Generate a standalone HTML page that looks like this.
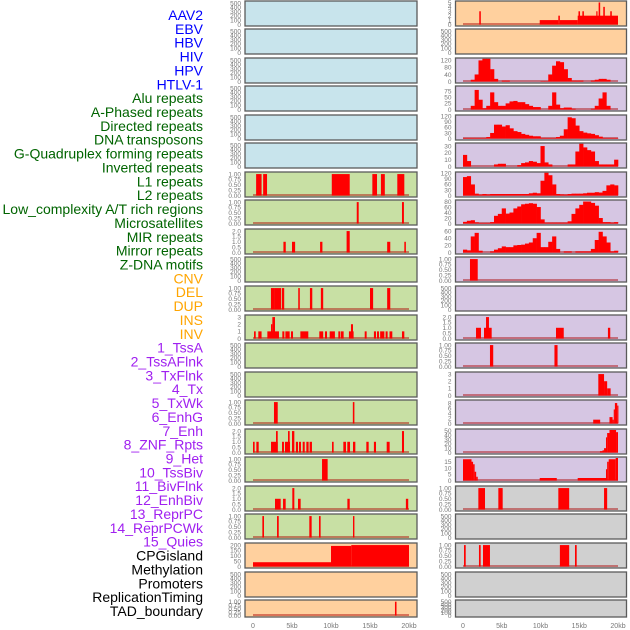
<!DOCTYPE html>
<html><head><meta charset="utf-8"><style>
html,body{margin:0;padding:0;background:#fff;}
svg{display:block;font-family:"Liberation Sans",sans-serif;}
</style></head><body>
<svg id="chart" width="630" height="630" viewBox="0 0 630 630"></svg>
<script>
// ---- data ----
const trackLabels=["AAV2","EBV","HBV","HIV","HPV","HTLV-1","Alu repeats","A-Phased repeats","Directed repeats","DNA transposons","G-Quadruplex forming repeats","Inverted repeats","L1 repeats","L2 repeats","Low_complexity A/T rich regions","Microsatellites","MIR repeats","Mirror repeats","Z-DNA motifs","CNV","DEL","DUP","INS","INV","1_TssA","2_TssAFlnk","3_TxFlnk","4_Tx","5_TxWk","6_EnhG","7_Enh","8_ZNF_Rpts","9_Het","10_TssBiv","11_BivFlnk","12_EnhBiv","13_ReprPC","14_ReprPCWk","15_Quies","CPGisland","Methylation","Promoters","ReplicationTiming","TAD_boundary"];
const xTickValues=[0,5,10,15,20];
const xTickLabels=["0","5kb","10kb","15kb","20kb"];
const ticks500=["0","100","200","300","400","500"];
const ticks1=["0.00","0.25","0.50","0.75","1.00"];
const ticks2=["0.0","0.5","1.0","1.5","2.0"];
const binSize=0.5;
// segment tracks [startKb, endKb, value]
const left6=[[0.4,1.1,1],[1.3,1.8,1],[10.1,12.4,1],[15.3,15.9,1],[16.4,16.9,1],[18.5,19.4,1]];
const left7=[[13.3,13.55,1],[19.1,19.35,1]];
const left8=[[3.9,4.2,1],[5.0,5.4,1],[8.6,8.9,1],[12.0,12.4,2],[17.2,17.6,1],[19.4,19.6,1]];
const left10=[[2.3,2.7,1],[2.7,3.6,1],[3.7,4.0,1],[5.8,6.0,1],[7.3,7.6,1],[8.7,9.0,1],[15.0,15.4,1],[17.2,17.6,1]];
const left11=[[0.13,0.35,1],[0.68,1.1,1],[1.84,3.33,1],[2.31,2.48,2],[2.48,2.82,3],[3.76,4.02,1],[4.15,4.7,1],[4.87,5.13,1],[6.07,7.09,1],[8.5,9.0,1],[9.23,9.49,1],[9.83,10.5,1],[10.94,11.2,1],[11.28,11.62,1],[12.3,12.9,1],[12.56,12.82,2],[14.32,14.57,1],[15.5,15.77,1],[15.9,16.15,1],[16.3,16.84,1],[17.0,17.26,1],[17.5,17.86,1],[19.1,19.4,1]];
const left14=[[2.69,3.17,1],[12.8,13.0,1]];
const left15=[[0,0.21,1],[0.43,0.73,1],[2.31,3.17,1],[2.95,3.17,2],[3.72,3.97,1],[4.1,4.74,1],[4.49,4.7,2],[5.0,5.3,2],[5.5,5.77,1],[5.9,6.15,1],[6.37,6.63,1],[6.84,7.13,1],[7.26,7.56,1],[10.13,10.34,1],[11.58,11.92,1],[12.09,12.44,1],[12.82,13.12,1],[14.53,14.83,1],[15.5,15.77,1],[17.14,17.52,1],[19.1,19.36,2]];
const left16=[[8.85,9.57,1]];
const left17=[[2.82,3.55,1],[3.85,4.19,1],[5.04,5.3,2],[5.77,6.11,1],[12.1,12.4,1],[19.6,19.9,1]];
const left18=[[1.2,1.41,1],[3.08,3.3,1],[7.22,7.52,1],[8.46,8.67,1],[12.82,13.0,1]];
const left19=[[0,10,40],[10,12.6,192],[12.6,20,200]];
const left21=[[18.2,18.4,1]];
const right0=[[2.1,2.3,3],[9.9,12.3,1],[12.3,12.5,2],[12.5,14.8,1],[14.8,20,2],[14.9,15.1,3],[15.4,15.6,3],[17.2,17.35,3],[17.5,17.7,5],[18.1,18.3,4],[19.0,19.2,3]];
const right9=[[0.9,1.9,1]];
const right11=[[1.68,2.32,1],[2.71,3.7,1],[2.97,3.35,2],[12.0,13.0,1],[18.7,19.0,1]];
const right12=[[3.48,3.9,1],[11.8,12.2,1]];
const right13=[[17.46,18.2,3],[18.2,18.6,2],[18.6,19.05,1]];
const right14=[[16.8,17.7,1.5],[18.9,19.3,2.5],[19.3,19.45,1.5],[19.45,19.6,5.5],[19.6,19.9,8],[19.9,20,7]];
const right15=[[17.67,18.0,3],[18.0,18.2,5],[18.2,18.45,10],[18.45,18.6,35],[18.6,18.9,45],[18.9,19.75,52],[19.75,20,47]];
const right16=[[0,1.1,17],[1.1,1.3,15],[1.3,1.5,13],[1.5,1.7,7],[1.7,1.9,3],[9.9,12.1,2],[14.8,18.45,2],[18.45,18.6,9],[18.6,18.8,15],[18.8,19.7,17],[19.7,20,18]];
const right17=[[1.98,2.84,1],[4.56,5.12,1],[12.3,13.7,1],[18.2,18.6,1]];
const right19=[[0.13,0.35,1],[2.06,2.28,1],[2.58,3.48,1],[12.5,13.7,1],[14.45,14.67,1]];
// binned histogram tracks (0.5kb bins)
const right2=[0,0,10,40,120,130,130,70,15,0,5,5,0,0,0,0,0,0,0,0,2,2,40,90,115,110,70,20,5,5,5,0,0,5,10,15,15,10,0,0];
const right3=[0,0,15,80,40,5,15,70,30,15,15,25,33,35,30,30,22,15,10,10,0,0,15,70,20,5,8,8,3,0,0,0,0,3,15,45,70,15,0,0];
const right4=[3,3,3,3,3,3,8,30,75,75,65,72,55,40,35,25,20,15,12,12,3,3,3,3,8,15,50,115,110,70,40,32,28,25,18,10,3,3,3,3];
const right5=[17,8,0,0,0,0,0,0,3,4,4,0,0,0,2,5,6,8,7,5,30,6,3,0,0,0,0,3,3,22,35,28,24,22,8,3,3,3,3,10];
const right6=[100,105,60,10,5,8,6,8,8,8,8,8,8,8,8,8,8,12,15,12,80,125,110,60,8,6,5,8,10,10,10,12,15,15,18,16,25,55,60,55];
const right7=[6,10,12,4,2,2,2,5,28,35,55,36,40,55,62,70,72,74,72,60,15,3,3,3,3,3,3,8,35,55,68,80,80,75,65,20,5,5,3,5];
const right8=[8,6,45,55,5,0,0,3,8,12,17,15,15,20,21,22,25,28,40,55,15,15,30,45,10,0,3,3,0,3,3,3,3,10,35,58,45,28,3,5];

// ---- layout ----
const rowTops=[];for(let i=0;i<22;i++)rowTops.push(Math.round(0.5+i*28.55));
const cols=[{left:245,right:417,x0:253,pxPerKb:7.8,tickX:241},{left:455.5,right:626.5,x0:463,pxPerKb:7.75,tickX:451.5}];
const BLUE="#c8e4ec",GREEN="#c8e0a4",ORANGE="#ffd09e",PURPLE="#d6c6e3",GRAY="#d0d0d0";
const tracks=[];
function add(col,row,bg,tk,ymax,segs,bins){tracks.push({col,row,bg,tk,ymax,segs,bins});}
for(let r=0;r<6;r++)add(0,r,BLUE,ticks500,525,null,null);
add(0,6,GREEN,ticks1,1.05,left6,null);
add(0,7,GREEN,ticks1,1.05,left7,null);
add(0,8,GREEN,ticks2,2.1,left8,null);
add(0,9,GREEN,ticks500,525,null,null);
add(0,10,GREEN,ticks1,1.05,left10,null);
add(0,11,GREEN,["0","1","2","3"],3.15,left11,null);
add(0,12,GREEN,ticks500,525,null,null);
add(0,13,GREEN,ticks500,525,null,null);
add(0,14,GREEN,ticks1,1.05,left14,null);
add(0,15,GREEN,ticks2,2.1,left15,null);
add(0,16,GREEN,ticks1,1.05,left16,null);
add(0,17,GREEN,ticks2,2.1,left17,null);
add(0,18,GREEN,ticks1,1.05,left18,null);
add(0,19,ORANGE,["0","50","100","150","200"],210,left19,null);
add(0,20,ORANGE,ticks500,525,null,null);
add(0,21,ORANGE,ticks1,1.05,left21,null);
add(1,0,ORANGE,["0","1","2","3","4","5"],5.1,right0,null);
add(1,1,ORANGE,ticks500,525,null,null);
add(1,2,PURPLE,["0","40","80","120"],128,null,right2);
add(1,3,PURPLE,["0","25","50","75"],92,null,right3);
add(1,4,PURPLE,["0","30","60","90","120"],122,null,right4);
add(1,5,PURPLE,["0","10","20","30"],33,null,right5);
add(1,6,PURPLE,["0","30","60","90","120"],122,null,right6);
add(1,7,PURPLE,["0","20","40","60","80"],82,null,right7);
add(1,8,PURPLE,["0","20","40","60"],63,null,right8);
add(1,9,PURPLE,ticks1,1.05,right9,null);
add(1,10,PURPLE,ticks500,525,null,null);
add(1,11,PURPLE,ticks2,2.1,right11,null);
add(1,12,PURPLE,ticks1,1.05,right12,null);
add(1,13,PURPLE,["0","1","2","3"],3.15,right13,null);
add(1,14,PURPLE,["0","2","4","6","8"],8.8,right14,null);
add(1,15,PURPLE,["0","10","20","30","40","50"],52,right15,null);
add(1,16,PURPLE,["0","5","10","15"],18,right16,null);
add(1,17,GRAY,ticks1,1.05,right17,null);
add(1,18,GRAY,ticks500,525,null,null);
add(1,19,GRAY,ticks1,1.05,right19,null);
add(1,20,GRAY,ticks500,525,null,null);
add(1,21,GRAY,ticks500,525,null,null);

const NS="http://www.w3.org/2000/svg";
const svg=document.getElementById('chart');
function mk(tag,attrs,parent){const e=document.createElementNS(NS,tag);for(const k in attrs)e.setAttribute(k,attrs[k]);(parent||svg).appendChild(e);return e;}

// labels
const labelColors=i=>i<6?"#0000ff":i<19?"#006400":i<24?"#ffa500":i<39?"#a020f0":"#000000";
trackLabels.forEach((t,i)=>{
  const el=mk('text',{x:203,y:15+i*13.86+5,'text-anchor':'end','font-size':'14',fill:labelColors(i)});
  el.textContent=t;
  
  
});

tracks.forEach(tr=>{
  const c=cols[tr.col];const T=rowTops[tr.row];
  const last=tr.row===21;
  const H=last?17:25;
  const base=T+H-1.5, topY=T+1;
  const ys=v=>Math.max(T+0.7,base-(v/tr.ymax)*(base-topY));
  const xs=k=>c.x0+k*c.pxPerKb;
  const g=mk('g',{});
  const idx=tr.col*22+tr.row;
  
  
  const bg=mk('rect',{x:c.left,y:T,width:c.right-c.left,height:H,fill:tr.bg},g);
  
  
  // ticks
  const n=tr.tk.length;
  tr.tk.forEach((lab,j)=>{
    const v=(j/(n-1))*(tr.ymax/ (tr.ymax>=500?1.05:(tr.ymax===1.05?1.05:1)));
    const tv=parseFloat(lab);
    const yy=ys(tv);
    const t=mk('text',{x:c.tickX,y:yy+2.3,'text-anchor':'end','font-size':'6.5',fill:'#777'},g);
    t.textContent=lab;
    
    
  });
  const hasData=tr.segs||tr.bins;
  if(hasData){
    const bl=mk('line',{x1:xs(0),x2:xs(20),y1:base-0.5,y2:base-0.5,stroke:'rgba(170,0,0,0.45)','stroke-width':2},g);
    
    
  }
  if(tr.segs){
    tr.segs.forEach(s=>{
      const y=ys(s[2]);
      const r=mk('rect',{x:xs(s[0]),y:y,width:Math.max(1.2,xs(s[1])-xs(s[0])),height:base-y,fill:'#ff0000'},g);
      
      
    });
  }
  if(tr.bins){
    tr.bins.forEach((v,i)=>{
      if(v<=0)return;
      const y=ys(v);
      const r=mk('rect',{x:xs(i*binSize),y:y,width:binSize*c.pxPerKb+0.3,height:base-y,fill:'#ff0000'},g);
      
      
    });
  }
  const fr=mk('rect',{x:c.left,y:T,width:c.right-c.left,height:H,fill:'none',stroke:'#5a5a5a','stroke-width':1.3},g);
  
  
});

// x-axis tick labels
cols.forEach((c,ci)=>{
  xTickValues.forEach((v,i)=>{
    const t=mk('text',{x:c.x0+v*c.pxPerKb,y:628,'text-anchor':'middle','font-size':'7',fill:'#777'});
    t.textContent=xTickLabels[i];
    
    
  });
});
</script>
</body></html>
